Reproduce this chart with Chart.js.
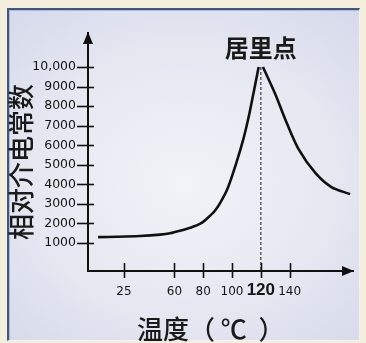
<!DOCTYPE html>
<html>
<head>
<meta charset="utf-8">
<script src="https://cdn.jsdelivr.net/npm/chart.js@4/dist/chart.umd.min.js"></script>
<style>
  html, body { margin: 0; padding: 0; }
  body { width: 366px; height: 343px; background: #f4efdc; position: relative; overflow: hidden; }
  #panel {
    position: absolute; left: 7px; top: 8px; width: 350px; height: 330px;
    border-left: 2px solid #44557a; border-top: 2px solid #44557a;
    border-right: 1px solid #eef3fb; border-bottom: 1px solid #eef3fb;
    box-shadow: inset 1px 1px 0 #a9b8e2;
    background: radial-gradient(ellipse 75% 70% at 50% 52%, #f2f3f8 0%, #e6e8f1 55%, #d5d9eb 100%);
  }
  #c { position: absolute; left: 0; top: 0; }
</style>
</head>
<body>
<div id="panel"></div>
<canvas id="c" width="366" height="343"></canvas>
<script>
// ---- data ----
const leftTemps  = [7, 20, 36, 50, 57, 65, 71, 78, 83, 88, 92, 97, 103, 108, 112, 115, 118.5];
const leftValues = [1300, 1320, 1360, 1430, 1500, 1650, 1780, 1990, 2280, 2640, 3080, 3800, 5100, 6350, 7600, 8700, 10000];
const rightTemps  = [121.5, 130, 137, 146, 158, 169, 182];
const rightValues = [10000, 8620, 7320, 5830, 4570, 3860, 3500];
const curieTemp = 120;
const curieValue = 10000;
const xTicks = [25, 60, 80, 100, 120, 140];
const xTickLabels = ['25', '60', '80', '100', '120', '140'];
const yTicks = [1000, 2000, 3000, 4000, 5000, 6000, 7000, 8000, 9000, 10000];
const yTickLabels = ['1000', '2000', '3000', '4000', '5000', '6000', '7000', '8000', '9000', '10,000'];
const xMin = 0, xMax = 184;
const yMin = -430, yMax = 11740;
const yTitle = '相对介电常数';
const xTitle = '温度（ ℃  ）';
const peakLabel = '居里点';

const toPts = (xs, ys) => xs.map((x, i) => ({ x: x, y: ys[i] }));

const decor = {
  id: 'decor',
  afterDraw(chart) {
    const ctx = chart.ctx;
    const xs = chart.scales.x, ys = chart.scales.y;
    const a = chart.chartArea;
    ctx.save();
    ctx.strokeStyle = '#111';
    ctx.fillStyle = '#111';
    ctx.lineWidth = 1.6;
    // crossing tick marks
    ys.ticks.forEach(t => {
      const p = Math.round(ys.getPixelForValue(t.value)) + 0.5;
      ctx.beginPath(); ctx.moveTo(a.left - 11, p); ctx.lineTo(a.left + 6, p); ctx.stroke();
    });
    xs.ticks.forEach(t => {
      const p = Math.round(xs.getPixelForValue(t.value)) + 0.5;
      ctx.beginPath(); ctx.moveTo(p, a.bottom - 8); ctx.lineTo(p, a.bottom + 7); ctx.stroke();
    });
    // arrow heads
    ctx.beginPath();
    ctx.moveTo(a.left, a.top - 1); ctx.lineTo(a.left - 5, a.top + 11); ctx.lineTo(a.left + 5, a.top + 11); ctx.closePath(); ctx.fill();
    ctx.beginPath();
    ctx.moveTo(a.right + 1, a.bottom); ctx.lineTo(a.right - 11, a.bottom - 5); ctx.lineTo(a.right - 11, a.bottom + 5); ctx.closePath(); ctx.fill();
    // texts
    ctx.fillStyle = '#1a1a1a';
    ctx.textAlign = 'center';
    ctx.textBaseline = 'middle';
    ctx.font = 'bold 24px "Noto Sans CJK SC"';
    ctx.fillText(peakLabel, xs.getPixelForValue(curieTemp), ys.getPixelForValue(curieValue) - 19);
    ctx.font = '500 26px "Noto Sans CJK SC"';
    ctx.save();
    ctx.translate(21, 162);
    ctx.rotate(-Math.PI / 2);
    ctx.fillText(yTitle, 0, 0);
    ctx.restore();
    ctx.font = '500 26px "Noto Sans CJK SC"';
    ctx.textAlign = 'left';
    ctx.fillText(xTitle, 137, 329);
    ctx.restore();
  }
};

new Chart(document.getElementById('c'), {
  type: 'line',
  data: {
    datasets: [
      { data: toPts(leftTemps, leftValues), borderColor: '#111', borderWidth: 2.6, pointRadius: 0, tension: 0.3, fill: false },
      { data: toPts(rightTemps, rightValues), borderColor: '#111', borderWidth: 2.6, pointRadius: 0, tension: 0.3, fill: false },
      { data: [{ x: curieTemp, y: curieValue }, { x: curieTemp, y: yMin }], borderColor: '#4a4a4a', borderWidth: 1.3, borderDash: [3, 2], pointRadius: 0, fill: false }
    ]
  },
  options: {
    responsive: false,
    animation: false,
    devicePixelRatio: 1,
    layout: { padding: { top: 33, right: 13, left: 0, bottom: 0 } },
    plugins: { legend: { display: false }, tooltip: { enabled: false }, title: { display: false } },
    scales: {
      x: {
        type: 'linear', min: xMin, max: xMax,
        afterBuildTicks: s => { s.ticks = xTicks.map(v => ({ value: v })); },
        afterFit: s => { s.height = 72; },
        grid: { display: false, drawTicks: false, tickLength: 0 },
        border: { display: true, color: '#111', width: 2 },
        ticks: {
          padding: 14, color: '#151515', maxRotation: 0, autoSkip: false,
          callback: (v, i) => xTickLabels[i],
          font: ctx => (ctx.tick && ctx.tick.value === curieTemp)
            ? { family: 'Liberation Sans', size: 17, weight: 'bold', lineHeight: '10px' }
            : { family: 'DejaVu Sans', size: 12, lineHeight: '14px' }
        }
      },
      y: {
        type: 'linear', min: yMin, max: yMax,
        afterBuildTicks: s => { s.ticks = yTicks.map(v => ({ value: v })); },
        afterFit: s => { s.width = 88; },
        grid: { display: false, drawTicks: false, tickLength: 0 },
        border: { display: true, color: '#111', width: 2 },
        ticks: {
          padding: 12, color: '#151515', autoSkip: false,
          callback: (v, i) => yTickLabels[i],
          font: { family: 'DejaVu Sans', size: 12.5 }
        }
      }
    }
  },
  plugins: [decor]
});
</script>
</body>
</html>
